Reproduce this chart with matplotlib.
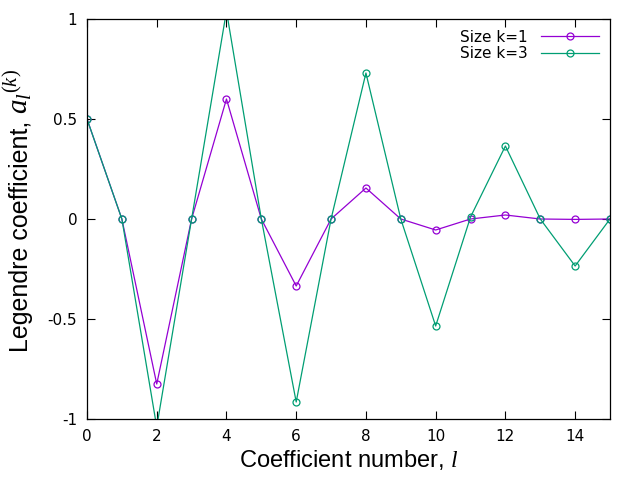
import matplotlib
matplotlib.use("Agg")
import matplotlib.pyplot as plt
import numpy as np

# Legendre coefficients a_l^(k)
coef_number = np.arange(16)
size_k1 = [0.5, 0.0, -0.825, 0.0, 0.6, 0.0, -0.335, 0.0, 0.155, 0.0,
           -0.055, 0.0, 0.02, 0.0, -0.002, 0.0]
size_k3 = [0.5, 0.0, -1.04, 0.0, 1.04, 0.0, -0.915, 0.0, 0.73, 0.0,
           -0.535, 0.01, 0.365, 0.0, -0.235, 0.0]
labels = ["Size k=1", "Size k=3"]
colors = ["#9400d3", "#009e73"]

plt.rcParams["font.family"] = ["DejaVu Sans"]
plt.rcParams["mathtext.fontset"] = "custom"
plt.rcParams["mathtext.it"] = "Liberation Serif:italic"
plt.rcParams["mathtext.rm"] = "Liberation Serif"

W, H = 640, 480
fig = plt.figure(figsize=(6.4, 4.8), dpi=100)
ax = fig.add_axes([87 / W, 1 - 419 / H, 523 / W, 400 / H])

for ys, lab, c in zip([size_k1, size_k3], labels, colors):
    ax.plot(coef_number, ys, color=c, lw=0.9, marker="o", ms=5,
            mfc="none", mec=c, mew=0.9, label=lab, clip_on=True)

ax.set_xlim(0, 15)
ax.set_ylim(-1, 1)
ax.set_xticks(np.arange(0, 15, 2))
ax.set_yticks([-1, -0.5, 0, 0.5, 1])
ax.set_yticklabels(["-1", "-0.5", "0", "0.5", "1"])
ax.tick_params(direction="in", top=True, right=True, length=6, width=0.8,
               labelsize=11, pad=7)
for s in ax.spines.values():
    s.set_linewidth(0.9)

ax.set_xlabel("Coefficient number, $l$", family="Liberation Sans", fontsize=17,
              labelpad=3)

# y label in two parts so the math can be bigger, as gnuplot draws it
ylab = fig.text(28 / W, 128 / H, "Legendre coefficient, ", rotation=90,
                rotation_mode="anchor", ha="left", va="baseline",
                family="Liberation Sans", fontsize=18)
fig.canvas.draw()
top = ylab.get_window_extent().y1
fig.text(28 / W, top / H, "$a_l{}^{(k)}$", rotation=90,
         rotation_mode="anchor", ha="left", va="baseline", fontsize=21)

ax.legend(loc="upper right", frameon=False, markerfirst=False, fontsize=11,
          handlelength=3.8, borderaxespad=0.3, labelspacing=0.1,
          handletextpad=0.9)

fig.savefig("out.png", dpi=100)
